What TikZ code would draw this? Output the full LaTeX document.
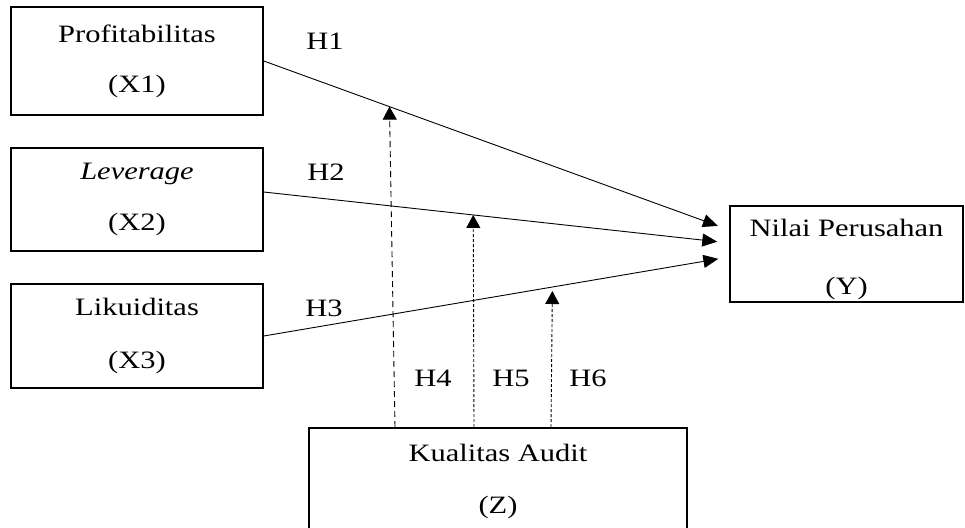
\documentclass[tikz,border=0pt]{standalone}
\usepackage{fontspec}
\setmainfont{Liberation Serif}[FakeStretch=1.22]
\usetikzlibrary{arrows.meta}
\tikzset{
  varbox/.style={draw, line width=1.6pt, align=center, inner sep=0pt,
    font=\fontsize{25}{30}\selectfont},
  hlabel/.style={font=\fontsize{25}{30}\selectfont},
  effect/.style={line width=0.9pt, -{Triangle[length=15pt,width=13pt]}},
  moderate/.style={line width=0.9pt, dash pattern=on 6pt off 4pt,
    -{Triangle[length=13pt,width=14pt]}},
  moderatefine/.style={moderate, dash pattern=on 3pt off 2pt},
}
\begin{document}
\begin{tikzpicture}[x=1pt,y=-1pt]
\useasboundingbox (0,0) rectangle (965,527);
% independent variables
\node[varbox, minimum width=252pt, minimum height=108pt] (x1) at (137,61) {Profitabilitas\\[20pt](X1)};
\node[varbox, minimum width=252pt, minimum height=103pt] (x2) at (137,199.5) {\textit{Leverage}\\[21pt](X2)};
\node[varbox, minimum width=252pt, minimum height=104pt] (x3) at (137,336) {Likuiditas\\[23pt](X3)};
% dependent and moderating variables
\node[varbox, minimum width=233pt, minimum height=96pt] (y) at (846.5,254) {\rule{0pt}{28pt}Nilai Perusahan\\[28pt](Y)};
\node[varbox, minimum width=378pt, minimum height=106pt] (z) at (498,481) {Kualitas Audit\\[22pt](Z)};
% direct effects
\draw[effect, shorten >=12pt] (x1.east) -- coordinate[pos=0.27] (m1) ([yshift=24pt]y.west);
\draw[effect, shorten >=12pt] ([yshift=7.5pt]x2.east) -- coordinate[pos=0.45] (m2) ([yshift=11pt]y.west);
\draw[effect, shorten >=11pt] (x3.east) -- coordinate[pos=0.62] (m3) ([yshift=-3pt]y.west);
% moderating effects
\draw[moderate] ([xshift=-103pt]z.north) -- (m1);
\draw[moderatefine] ([xshift=-24pt]z.north) -- (m2);
\draw[moderatefine] ([xshift=53pt]z.north) -- ([yshift=-4pt]m3);
% hypotheses
\node[hlabel] (h1) at (325,41) {H1};
\node[hlabel] (h2) at (326,172) {H2};
\node[hlabel] (h3) at (324,308) {H3};
\node[hlabel] (h4) at (433,378) {H4};
\node[hlabel] (h5) at (511,378) {H5};
\node[hlabel] (h6) at (588,378) {H6};
\end{tikzpicture}
\end{document}
